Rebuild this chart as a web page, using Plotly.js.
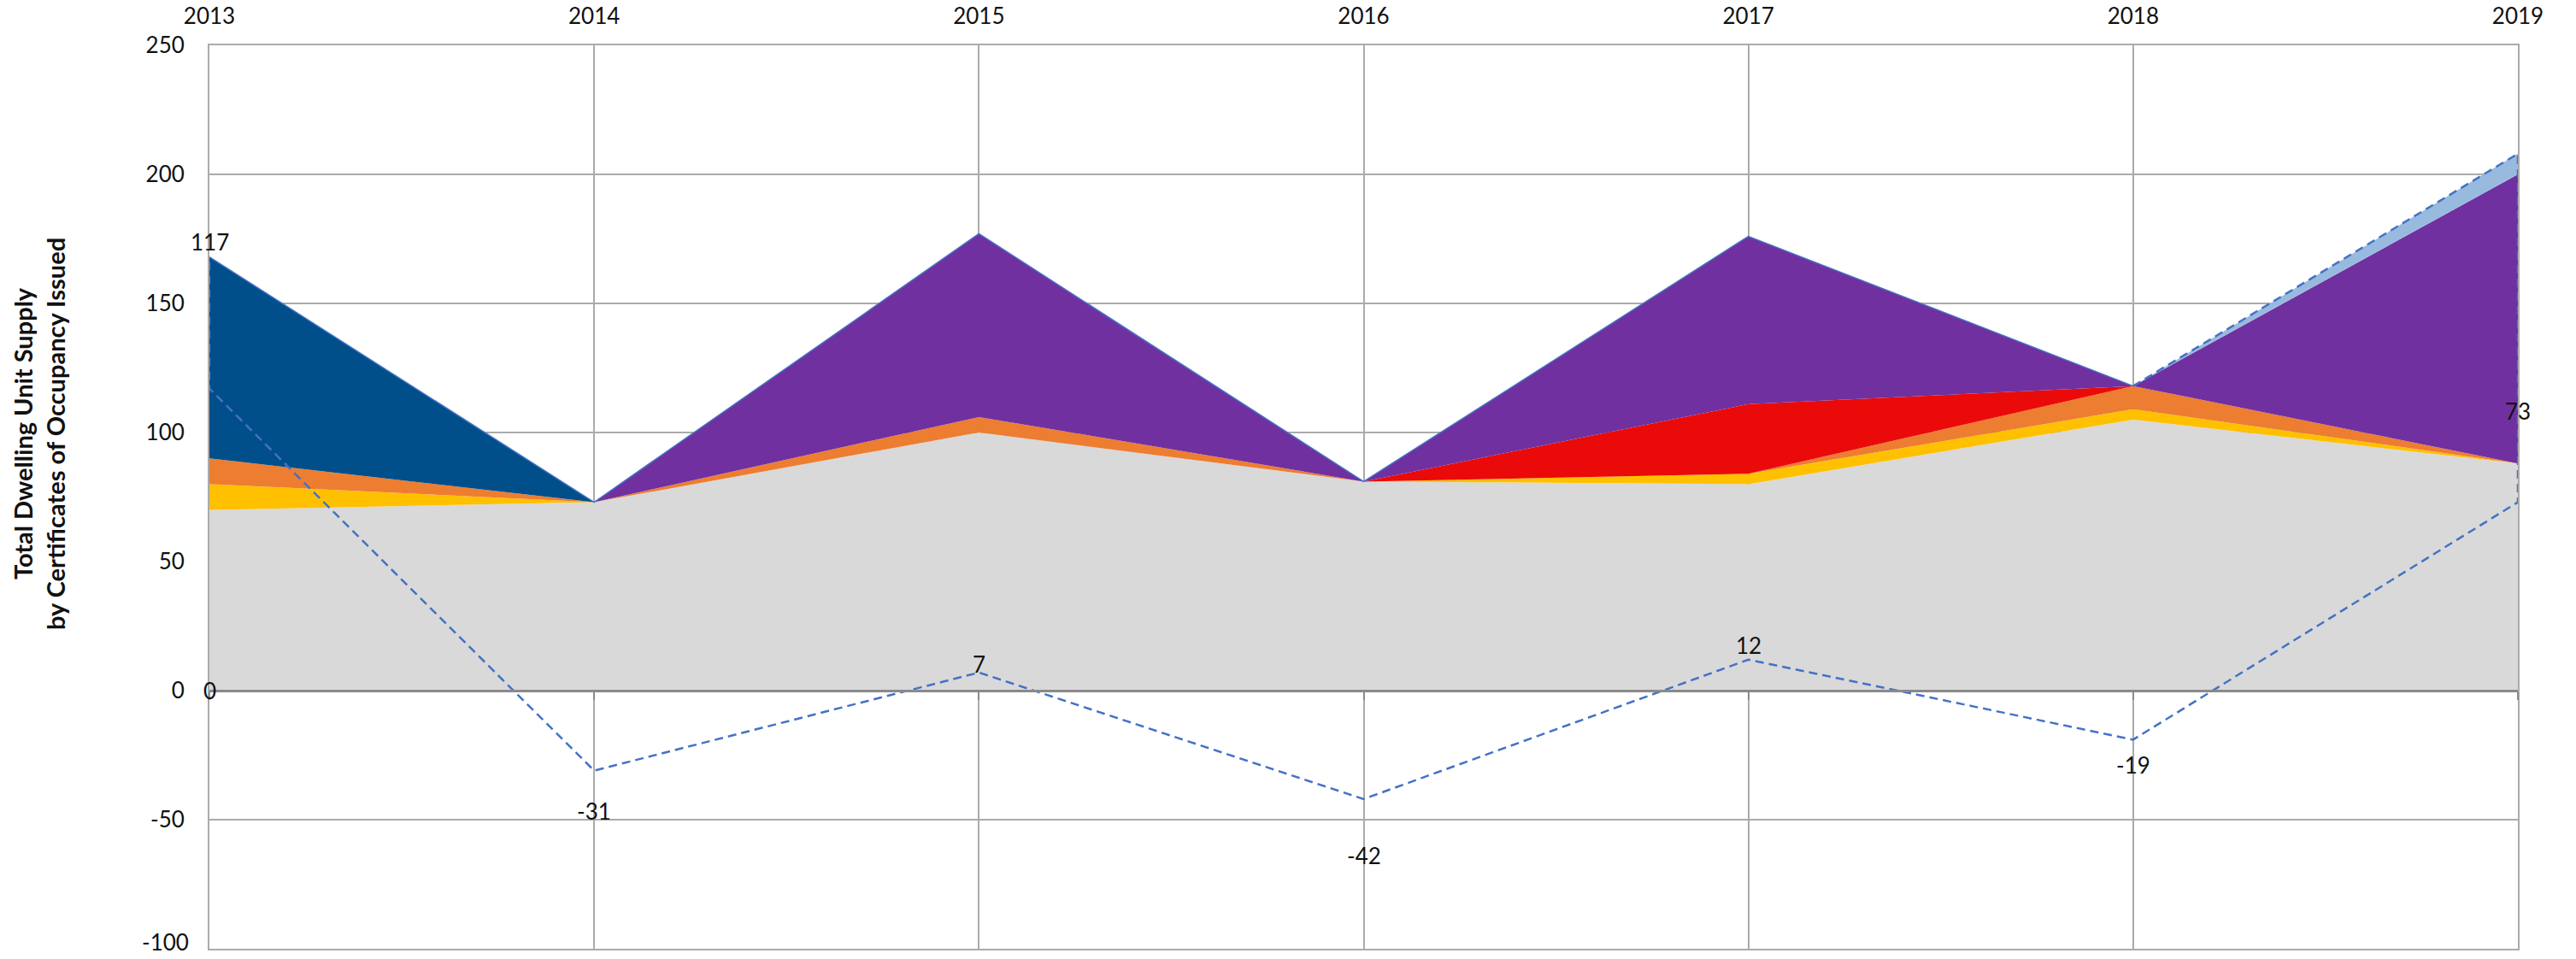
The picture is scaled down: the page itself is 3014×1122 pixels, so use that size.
<!DOCTYPE html>
<html>
<head>
<meta charset="utf-8">
<script src="https://cdn.plot.ly/plotly-3.0.1.min.js"></script>
<style>
  html, body { margin: 0; padding: 0; background: #ffffff; }
  #chart { width: 3014px; height: 1122px; }
</style>
</head>
<body>
<div id="chart"></div>
<script>
// ---- Data ----
const years      = [2013, 2014, 2015, 2016, 2017, 2018, 2019];
const baseSupply = [70, 73, 100, 81, 80, 105, 88];   // grey
const seriesYel  = [10, 0, 0, 0, 4, 4, 0];           // yellow
const seriesOrg  = [10, 0, 6, 0, 0, 9, 0];           // orange
const seriesRed  = [0, 0, 0, 0, 27, 0, 0];           // red
const seriesNavy = [78, 0, 0, 0, 0, 0, 0];           // dark blue
const seriesPurp = [0, 0, 71, 0, 65, 0, 112];        // purple
const seriesLtBl = [0, 0, 0, 0, 0, 0, 8];            // light blue
const netChange  = [117, -31, 7, -42, 12, -19, 73];  // dashed line
const yTickVals  = [-100, -50, 0, 50, 100, 150, 200, 250];
const yTitle = 'Total Dwelling Unit Supply<br>by Certificates of Occupancy Issued';

// ---- Styles ----
const FONT = 'Lato, "Open Sans", sans-serif';
const GRID = '#ababab';
const LINEBLUE = '#4472c4';
const TXT = 26;

const stackDefs = [
  {name: 'Base',   y: baseSupply, color: '#d9d9d9'},
  {name: 'Yellow', y: seriesYel,  color: '#ffc000'},
  {name: 'Orange', y: seriesOrg,  color: '#ed7d31'},
  {name: 'Red',    y: seriesRed,  color: '#eb0a0a'},
  {name: 'Navy',   y: seriesNavy, color: '#004f8a'},
  {name: 'Purple', y: seriesPurp, color: '#7030a0'},
  {name: 'Light blue', y: seriesLtBl, color: '#99badf'}
];

const traces = stackDefs.map(s => ({
  type: 'scatter', mode: 'lines', x: years, y: s.y, name: s.name,
  stackgroup: 'one', fill: 'tonexty', fillcolor: s.color,
  line: {width: 0, color: s.color}, hoverinfo: 'x+y+name', showlegend: false
}));

// total of stack (top edge)
const total = years.map((_, i) => stackDefs.reduce((a, s) => a + s.y[i], 0));
const n = years.length;

// thin solid outline along top of stack (2013..2018)
traces.push({
  type: 'scatter', mode: 'lines', x: years.slice(0, n - 1), y: total.slice(0, n - 1),
  line: {color: LINEBLUE, width: 1.5}, hoverinfo: 'skip', showlegend: false
});

// dashed outline: top 2018->2019, down at 2019, along net change back to 2013, up at 2013
const dashX = [years[n - 2], years[n - 1]];
const dashY = [total[n - 2], total[n - 1]];
for (let i = n - 1; i >= 0; i--) { dashX.push(years[i]); dashY.push(netChange[i]); }
dashX.push(years[0]); dashY.push(total[0]);
traces.push({
  type: 'scatter', mode: 'lines', x: dashX, y: dashY, name: 'Net change',
  line: {color: LINEBLUE, width: 2.5, dash: '10px,6px'}, hoverinfo: 'skip', showlegend: false
});

// dummy trace for zero-axis with ticks
traces.push({type: 'scatter', mode: 'none', x: years, y: years.map(() => 0), xaxis: 'x2', yaxis: 'y', hoverinfo: 'skip', showlegend: false});

const yRange = [yTickVals[0], yTickVals[yTickVals.length - 1]];
const zeroPos = (0 - yRange[0]) / (yRange[1] - yRange[0]);

// data-label pixel offsets (style)
const labelShift = [172, -47, 10, -66, 17, -30, 107];
const annotations = netChange.map((v, i) => ({
  x: years[i], y: v, xref: 'x', yref: 'y', text: String(v), showarrow: false,
  yshift: labelShift[i], font: {family: FONT, size: TXT, color: '#111111'}
}));
annotations.push({
  x: years[0], y: seriesLtBl[0], xref: 'x', yref: 'y', text: String(seriesLtBl[0]), showarrow: false,
  font: {family: FONT, size: TXT, color: '#111111'}
});
annotations.push({
  x: -0.0737, y: 0.5705, xref: 'paper', yref: 'paper', text: yTitle, showarrow: false,
  textangle: -90, xanchor: 'center', yanchor: 'middle',
  font: {family: FONT, size: 29, color: '#111111', weight: 'bold'}
});
// bottom tick label drawn as annotation so it stays inside the picture
annotations.push({
  x: 0, y: yRange[0], xref: 'paper', yref: 'y', text: String(yRange[0]), showarrow: false,
  xanchor: 'right', yanchor: 'bottom', xshift: -22, yshift: -10,
  font: {family: FONT, size: TXT, color: '#111111'}
});

const layout = {
  width: 3014, height: 1122,
  margin: {l: 245, r: 68, t: 53, b: 12, pad: 0},
  paper_bgcolor: '#ffffff', plot_bgcolor: '#ffffff',
  font: {family: FONT, size: TXT, color: '#111111'},
  showlegend: false,
  xaxis: {
    side: 'top', range: [years[0], years[n - 1]], tickmode: 'array', tickvals: years,
    ticktext: years.map(String), showgrid: true, gridcolor: GRID, gridwidth: 2,
    zeroline: false, showline: true, linecolor: GRID, linewidth: 2, mirror: true,
    ticks: '', ticklabelstandoff: 13, ticklabeloverflow: 'allow',
    tickfont: {family: FONT, size: TXT, color: '#111111'}
  },
  xaxis2: {
    overlaying: 'x', anchor: 'free', position: zeroPos, side: 'bottom',
    range: [years[0], years[n - 1]], tickmode: 'array', tickvals: years,
    showticklabels: false, showgrid: false, zeroline: false,
    showline: true, linecolor: '#8a8a8a', linewidth: 2.5,
    ticks: 'outside', ticklen: 9, tickwidth: 2, tickcolor: '#8a8a8a'
  },
  yaxis: {
    range: yRange, tickmode: 'array', tickvals: yTickVals,
    ticktext: yTickVals.map((v, i) => i === 0 ? '' : String(v)),
    showgrid: true, gridcolor: GRID, gridwidth: 2,
    zeroline: false, showline: true, linecolor: GRID, linewidth: 2, mirror: true,
    ticks: '', ticklabelstandoff: 22, ticklabeloverflow: 'allow',
    tickfont: {family: FONT, size: TXT, color: '#111111'}
  },
  annotations: annotations
};

Plotly.newPlot('chart', traces, layout, {displayModeBar: false, staticPlot: true});
</script>
</body>
</html>
